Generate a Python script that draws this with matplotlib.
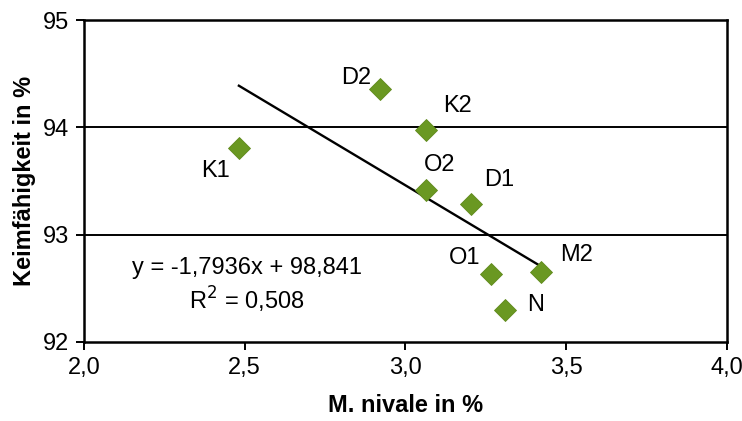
import matplotlib
matplotlib.use('Agg')
import matplotlib.pyplot as plt
import numpy as np

plt.rcParams['font.family'] = ['Liberation Sans', 'DejaVu Sans']

# samples: M. nivale (%) vs Keimfaehigkeit (%)
names = ['K1', 'D2', 'K2', 'O2', 'D1', 'O1', 'M2', 'N']
nivale = [2.482, 2.921, 3.063, 3.063, 3.204, 3.266, 3.421, 3.311]
keim = [93.81, 94.36, 93.98, 93.42, 93.285, 92.63, 92.65, 92.295]

slope = -1.7936
intercept = 98.841
r2 = 0.508

# label offsets in points
offsets = {'K1': (-17, -17), 'D2': (-17, 8), 'K2': (23, 17), 'O2': (10, 18),
           'D1': (20, 17), 'O1': (-19, 12), 'M2': (26, 12), 'N': (22, 4)}

xticks = [2.0, 2.5, 3.0, 3.5, 4.0]
yticks = [92, 93, 94, 95]

fig = plt.figure(figsize=(7.42, 4.21), dpi=100)
ax = fig.add_axes([0.1132, 0.1884, 0.8662, 0.7634])

for y in [93, 94]:
  ax.axhline(y, color='black', lw=1.4, zorder=1)

xl = np.array([min(nivale), max(nivale)])
ax.plot(xl, slope*xl + intercept, color='black', lw=1.7, zorder=2)

ax.plot(nivale, keim, linestyle='none', marker='D', ms=11.5, color='#6a9822',
        markeredgecolor='#5f8a1c', markeredgewidth=0.6, zorder=3)

for n, x, y in zip(names, nivale, keim):
  dx, dy = offsets[n]
  ax.annotate(n, (x, y), xytext=(dx, dy), textcoords='offset points',
              ha='center', va='center', fontsize=17)

ax.text(2.507, 92.687, 'y = -1,7936x + 98,841', ha='center', va='center', fontsize=17)
ax.text(2.507, 92.39, 'R$^2$ = 0,508', ha='center', va='center', fontsize=17)

ax.set_xlim(2.0, 4.0)
ax.set_ylim(92, 95)
ax.set_xticks(xticks)
ax.set_xticklabels([('%.1f' % v).replace('.', ',') for v in xticks])
ax.set_yticks(yticks)
ax.set_yticklabels([str(v) for v in yticks])
ax.tick_params(direction='out', length=6, width=1.4, labelsize=17, pad=5)
for s in ax.spines.values():
  s.set_linewidth(1.8)

ax.set_xlabel('M. nivale in %', fontsize=17, fontweight='bold', labelpad=11)
ax.set_ylabel('Keimfähigkeit in %', fontsize=17, fontweight='bold', labelpad=5)

plt.savefig('out.png', dpi=100)
